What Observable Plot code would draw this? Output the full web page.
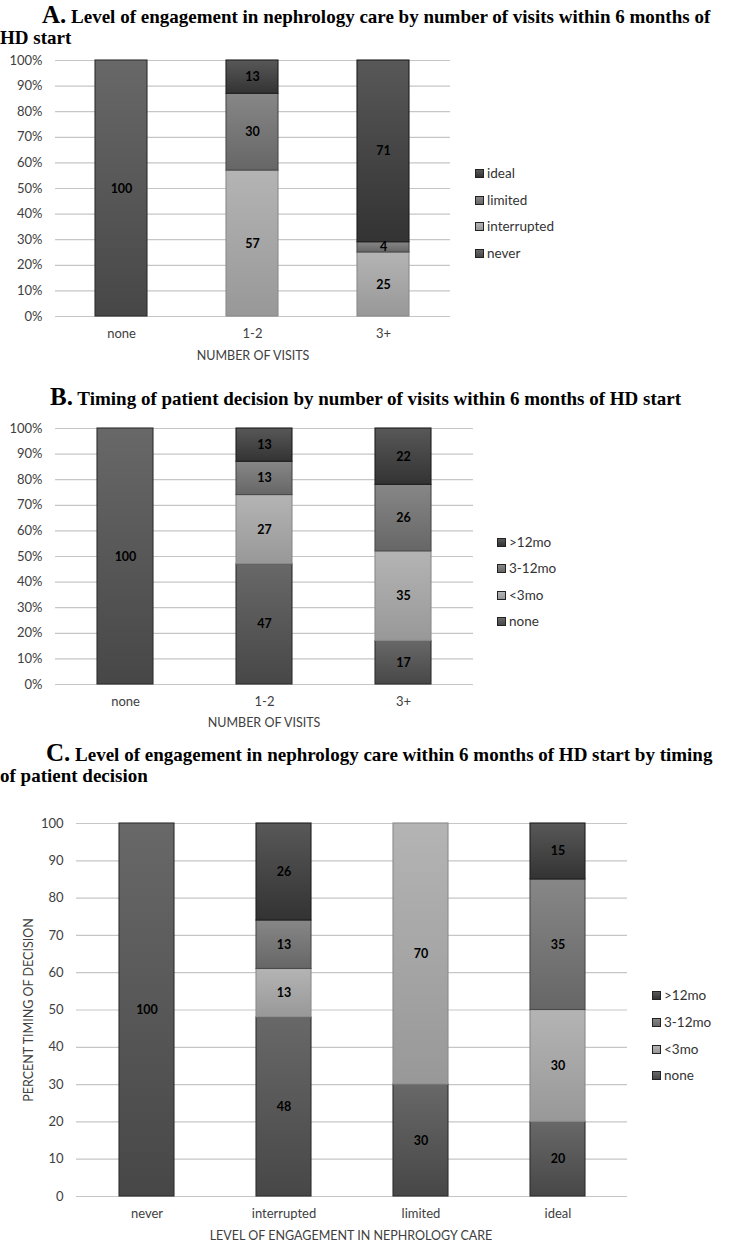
<!DOCTYPE html>
<html>
<head>
<meta charset="utf-8">
<script src="https://cdn.jsdelivr.net/npm/d3@7"></script>
<script src="https://cdn.jsdelivr.net/npm/@observablehq/plot@0.6"></script>
<style>
  html, body { margin: 0; padding: 0; background: #fff; }
  body { width: 732px; height: 1241px; position: relative; overflow: hidden; font-family: Lato, "Open Sans", sans-serif; }
  .title { position: absolute; left: 0; font-family: "Liberation Serif", "Times New Roman", serif; font-weight: bold; font-size: 19px; line-height: 21px; color: #000; white-space: nowrap; }
  .title .big { font-size: 25px; line-height: 21px; }
  .plot { position: absolute; left: 0; }
  .axlabel { position: absolute; font-size: 12.5px; color: #404040; white-space: nowrap; transform: translate(-50%, -50%); }
  .legend { position: absolute; font-size: 13.5px; color: #333; }
  .legend .item { position: absolute; white-space: nowrap; height: 16px; line-height: 16px; transform: translateY(-50%); }
  .legend .sw { display: inline-block; width: 7px; height: 7px; border: 1px solid #222; vertical-align: middle; margin-right: 3px; position: relative; top: -1px; }
</style>
</head>
<body>
<svg width="0" height="0" style="position:absolute">
  <defs>
    <linearGradient id="g-dark0" x1="0" y1="0" x2="0" y2="1"><stop offset="0" stop-color="#686868"/><stop offset="1" stop-color="#474747"/></linearGradient>
    <linearGradient id="g-light" x1="0" y1="0" x2="0" y2="1"><stop offset="0" stop-color="#b4b4b4"/><stop offset="1" stop-color="#989898"/></linearGradient>
    <linearGradient id="g-mid" x1="0" y1="0" x2="0" y2="1"><stop offset="0" stop-color="#878787"/><stop offset="1" stop-color="#666666"/></linearGradient>
    <linearGradient id="g-dark" x1="0" y1="0" x2="0" y2="1"><stop offset="0" stop-color="#585858"/><stop offset="1" stop-color="#333333"/></linearGradient>
  </defs>
</svg>

<div class="title" style="top:4px; text-indent:42px;"><span class="big">A.</span> Level of engagement in nephrology care by number of visits within 6 months of<br>HD start</div>
<div class="title" style="top:386px; text-indent:50px;"><span class="big">B.</span> Timing of patient decision by number of visits within 6 months of HD start</div>
<div class="title" style="top:742px; text-indent:46px;"><span class="big">C.</span> Level of engagement in nephrology care within 6 months of HD start by timing<br>of patient decision</div>

<div id="plotA" class="plot" style="top:50px"></div>
<div id="plotB" class="plot" style="top:420px"></div>
<div id="plotC" class="plot" style="top:810px"></div>

<div class="axlabel" style="left:253px; top:355px;">NUMBER OF VISITS</div>
<div class="axlabel" style="left:264px; top:722px;">NUMBER OF VISITS</div>
<div class="axlabel" style="left:351px; top:1235px;">LEVEL OF ENGAGEMENT IN NEPHROLOGY CARE</div>
<div class="axlabel" style="left:28px; top:1010px; transform: translate(-50%, -50%) rotate(-90deg);">PERCENT TIMING OF DECISION</div>

<div id="legA" class="legend"></div>
<div id="legB" class="legend"></div>
<div id="legC" class="legend"></div>

<script>
// ---------- Data ----------
// Panel A: level of engagement by number of visits (percent)
const visitCategories = ["none", "1-2", "3+"];
const engagementLevels = ["never", "interrupted", "limited", "ideal"];
const aNever       = [100, 0, 0];
const aInterrupted = [0, 57, 25];
const aLimited     = [0, 30, 4];
const aIdeal       = [0, 13, 71];

// Panel B: timing of decision by number of visits (percent)
const timingLevels = ["none", "<3mo", "3-12mo", ">12mo"];
const bNone    = [100, 47, 17];
const bUnder3  = [0, 27, 35];
const b3to12   = [0, 13, 26];
const bOver12  = [0, 13, 22];

// Panel C: timing of decision by level of engagement (percent)
const engagementCategories = ["never", "interrupted", "limited", "ideal"];
const cNone    = [100, 48, 30, 20];
const cUnder3  = [0, 13, 70, 30];
const c3to12   = [0, 13, 0, 35];
const cOver12  = [0, 26, 0, 15];

const yTicks = [0, 10, 20, 30, 40, 50, 60, 70, 80, 90, 100];

// ---------- styling per series position (bottom to top) ----------
const fills   = ["url(#g-dark0)", "url(#g-light)", "url(#g-mid)", "url(#g-dark)"];
const strokes = ["#2e2e2e", "#8a8a8a", "#4a4a4a", "#1e1e1e"];
const swatch  = ["linear-gradient(#686868,#474747)", "linear-gradient(#b4b4b4,#989898)", "linear-gradient(#878787,#666666)", "linear-gradient(#585858,#333333)"];

function buildRows(cats, keys, series) {
  const rows = [];
  keys.forEach((k, si) => {
    cats.forEach((c, ci) => {
      const v = series[si][ci];
      if (v > 0) rows.push({cat: c, key: k, value: v, si});
    });
  });
  return rows;
}

function chart({cats, keys, series, width, height, mt, mb, ml, mr, pct}) {
  const data = buildRows(cats, keys, series);
  return Plot.plot({
    width, height,
    marginTop: mt, marginBottom: mb, marginLeft: ml, marginRight: mr,
    style: {fontFamily: "Lato, 'Open Sans', sans-serif", fontSize: "13px", color: "#404040", background: "transparent", overflow: "visible"},
    x: {domain: cats, paddingInner: 0.6, paddingOuter: 0.3, tickSize: 0, tickPadding: 12, label: null},
    y: {domain: [0, 100], ticks: yTicks, tickSize: 0, tickPadding: 13, label: null,
        tickFormat: d => pct ? d + "%" : String(d)},
    color: {type: "identity"},
    marks: [
      Plot.ruleY(yTicks, {stroke: "#c6c6c6", strokeWidth: 1.2}),
      Plot.barY(data, Plot.stackY({x: "cat", y: "value", z: "key", order: keys,
        fill: d => fills[d.si], stroke: d => strokes[d.si], strokeWidth: 1.1})),
      Plot.text(data, Plot.stackY({x: "cat", y: "value", z: "key", order: keys,
        text: d => String(d.value), fill: "#000", fontWeight: "bold", fontSize: 12.5}))
    ]
  });
}

document.getElementById("plotA").appendChild(chart({
  cats: visitCategories, keys: engagementLevels,
  series: [aNever, aInterrupted, aLimited, aIdeal],
  width: 732, height: 320, mt: 10, mb: 54, ml: 55, mr: 282, pct: true
}));
document.getElementById("plotB").appendChild(chart({
  cats: visitCategories, keys: timingLevels,
  series: [bNone, bUnder3, b3to12, bOver12],
  width: 732, height: 300, mt: 8, mb: 36, ml: 55, mr: 259, pct: true
}));
document.getElementById("plotC").appendChild(chart({
  cats: engagementCategories, keys: timingLevels,
  series: [cNone, cUnder3, c3to12, cOver12],
  width: 732, height: 420, mt: 13, mb: 34, ml: 76, mr: 105, pct: false
}));

function legend(id, keys, left, tops) {
  const el = document.getElementById(id);
  // legend lists top series first
  const order = [3, 2, 1, 0];
  order.forEach((si, i) => {
    const it = document.createElement("div");
    it.className = "item";
    it.style.left = left + "px";
    it.style.top = tops[i] + "px";
    const sw = document.createElement("span");
    sw.className = "sw";
    sw.style.background = swatch[si];
    it.appendChild(sw);
    it.appendChild(document.createTextNode(keys[si]));
    el.appendChild(it);
  });
}
legend("legA", engagementLevels, 475, [173, 200, 226, 253]);
legend("legB", timingLevels, 497, [542, 568, 595, 621]);
legend("legC", timingLevels, 652, [995, 1022, 1049, 1075]);
</script>
</body>
</html>
